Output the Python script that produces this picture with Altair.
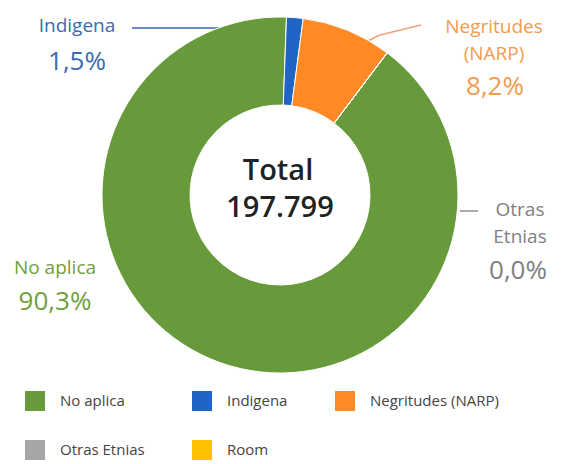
import altair as alt
import pandas as pd

# ---- data ----
categories = ["No aplica", "Indigena", "Negritudes (NARP)", "Otras Etnias", "Room"]
percent = [90.3, 1.5, 8.2, 0.0, 0.0]
colors = ["#679A3A", "#1F65C5", "#FF8A25", "#A6A6A6", "#FFC000"]
total_label = "197.799"

# ring labels (shown text)
label_names = ["Indigena", "Negritudes\n(NARP)", "Otras\nEtnias", "No aplica"]
label_cats = ["Indigena", "Negritudes (NARP)", "Otras Etnias", "No aplica"]
label_colors = ["#3A6BB0", "#F29A50", "#7F7F7F", "#6FA040"]

# ---- layout constants (annotation positions, chart px) ----
CX, CY = 272, 187
R_OUT, R_IN = 178, 90
START = 0.646  # radians

name_pos = {  # (x, y of first line)
    "Indigena": (69, 18),
    "Negritudes (NARP)": (486, 19),
    "Otras Etnias": (512, 202),
    "No aplica": (47, 260),
}
pct_pos = {
    "Indigena": (69, 54),
    "Negritudes (NARP)": (487, 79),
    "Otras Etnias": (510, 263),
    "No aplica": (47, 294),
}

df = pd.DataFrame({"cat": categories, "pct": percent, "ord": list(range(len(categories)))})

color_scale = alt.Scale(domain=categories, range=colors)

ring = alt.Chart(df).mark_arc(
    outerRadius=R_OUT, innerRadius=R_IN, stroke="white", strokeWidth=1
).encode(
    theta=alt.Theta("pct:Q", stack=True, scale=alt.Scale(range=[START, START + 6.283185307])),
    color=alt.Color(
        "cat:N",
        scale=color_scale,
        sort=categories,
        legend=alt.Legend(
            title=None,
            orient="none",
            direction="horizontal",
            legendX=17,
            legendY=383,
            columns=3,
            columnPadding=47,
            rowPadding=29,
            symbolType="square",
            symbolSize=400,
            symbolStrokeWidth=0,
            symbolOpacity=1,
            labelFontSize=15,
            labelFont="Open Sans",
            labelColor="#444444",
            labelOffset=15,
            labelLimit=300,
            padding=0,
        ),
    ),
    order=alt.Order("ord:Q"),
    x=alt.value(CX),
    y=alt.value(CY),
)

pct_map = dict(zip(categories, percent))
names_rows = []
pct_rows = []
for name, cat, col in zip(label_names, label_cats, label_colors):
    nx, ny = name_pos[cat]
    px, py = pct_pos[cat]
    lines = name.split("\n")
    for i, ln in enumerate(lines):
        names_rows.append({"t": ln, "x": nx, "y": ny + i * 27, "c": col})
    pct_rows.append({"t": f"{pct_map[cat]:.1f}%".replace(".", ","), "x": px, "y": py, "c": col})

names_df = pd.DataFrame(names_rows)
pct_df = pd.DataFrame(pct_rows)

name_text = alt.Chart(names_df).mark_text(
    font="Open Sans", fontSize=19, fontWeight=500, baseline="middle", align="center"
).encode(
    x=alt.X("x:Q", scale=None), y=alt.Y("y:Q", scale=None),
    text="t:N", color=alt.Color("c:N", scale=None),
)

pct_text = alt.Chart(pct_df).mark_text(
    font="Open Sans", fontSize=26, fontWeight=500, baseline="middle", align="center"
).encode(
    x=alt.X("x:Q", scale=None), y=alt.Y("y:Q", scale=None),
    text="t:N", color=alt.Color("c:N", scale=None),
)

center_df = pd.DataFrame({"t": ["Total", total_label], "x": [270, 272], "y": [163, 200]})
center_text = alt.Chart(center_df).mark_text(
    font="Open Sans", fontSize=29, fontWeight=600, baseline="middle", align="center", color="#222222"
).encode(
    x=alt.X("x:Q", scale=None), y=alt.Y("y:Q", scale=None), text="t:N"
)

# leader lines
lines_df = pd.DataFrame({
    "x": [124, 335, 372, 452],
    "x2": [215, 372, 413, 470],
    "y": [20, 45, 27, 203],
    "y2": [20, 27, 17, 203],
    "c": ["#3A6BB0", "#F4A07A", "#F4A07A", "#8F8F8F"],
})
leaders = alt.Chart(lines_df).mark_rule(strokeWidth=1.5).encode(
    x=alt.X("x:Q", scale=None), x2="x2:Q",
    y=alt.Y("y:Q", scale=None), y2="y2:Q",
    color=alt.Color("c:N", scale=None),
)

chart = alt.layer(leaders, ring, name_text, pct_text, center_text).properties(
    width=550, height=454, autosize=alt.AutoSizeParams(type="none"), padding=0,
    background="white",
).configure_view(stroke=None)

chart.save("out.html", embed_options={"renderer": "svg", "actions": False})
